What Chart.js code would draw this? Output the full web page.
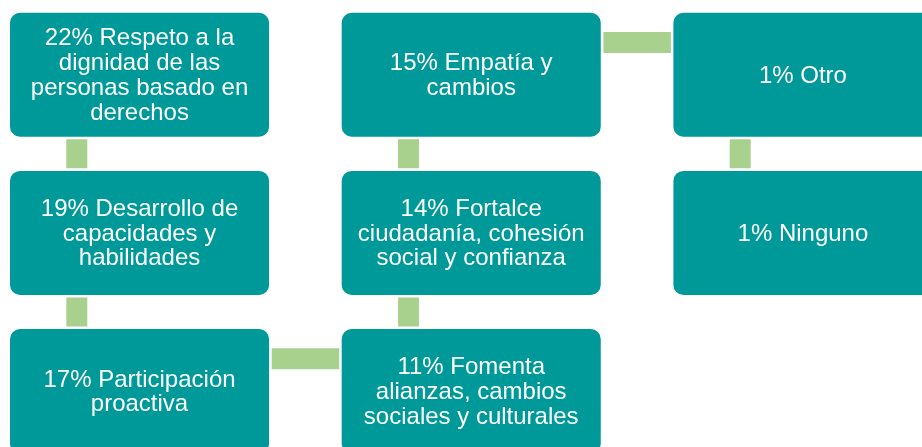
<!DOCTYPE html>
<html>
<head>
<meta charset="utf-8">
<script src="https://cdn.jsdelivr.net/npm/chart.js@4"></script>
<style>
  html, body { margin: 0; padding: 0; background: #ffffff; }
  #wrap { width: 922px; height: 447px; position: relative; }
</style>
</head>
<body>
<div id="wrap"><canvas id="c"></canvas></div>
<script>
// ---- data ----
const categories = [
  'Respeto a la dignidad de las personas basado en derechos',
  'Desarrollo de capacidades y habilidades',
  'Participación proactiva',
  'Fomenta alianzas, cambios sociales y culturales',
  'Fortalce ciudadanía, cohesión social y confianza',
  'Empatía y cambios',
  'Otro',
  'Ninguno'
];
const values = [22, 19, 17, 11, 14, 15, 1, 1];

// ---- layout (snake flow, 3 boxes per column) ----
const ROWS = 3;
const BOX_W = 0.781;   // fraction of column pitch
const BOX_H = 0.784;   // fraction of row pitch
function cellOf(i) {
  const col = Math.floor(i / ROWS);
  const r = i % ROWS;
  const row = (col % 2 === 0) ? r : (ROWS - 1 - r);
  return { col, row };
}
const cells = categories.map((_, i) => cellOf(i));

const boxData = cells.map(c => ({ x: c.col + BOX_W / 2, y: [c.row, c.row + BOX_H] }));

const connectorSets = [];
for (let i = 0; i < cells.length - 1; i++) {
  const a = cells[i], b = cells[i + 1];
  if (a.col === b.col) {
    const top = Math.min(a.row, b.row);
    const xc = a.col + 0.2014;
    connectorSets.push([{ x: xc, y: top + 0.8005 }, { x: xc, y: top + 0.983 }]);
  } else {
    const yc = a.row + 0.188;
    const left = Math.min(a.col, b.col);
    connectorSets.push([{ x: left + BOX_W + 0.008, y: yc }, { x: left + 1 - 0.0075, y: yc }]);
  }
}

const TEAL = '#009999';
const GREEN = '#A9D18E';

const datasets = [
  {
    type: 'bar',
    data: boxData,
    backgroundColor: TEAL,
    borderWidth: 0,
    borderRadius: 10,
    borderSkipped: false,
    categoryPercentage: 1,
    barPercentage: BOX_W,
    order: 1
  }
];
connectorSets.forEach(seg => {
  datasets.push({
    type: 'line',
    data: seg,
    borderColor: GREEN,
    borderWidth: 21,
    borderCapStyle: 'butt',
    pointRadius: 0,
    fill: false,
    tension: 0,
    order: 2
  });
});

const labelPlugin = {
  id: 'boxLabels',
  afterDatasetsDraw(chart) {
    const ctx = chart.ctx;
    const meta = chart.getDatasetMeta(0);
    ctx.save();
    ctx.fillStyle = '#ffffff';
    ctx.font = '24px "Liberation Sans", Arial, sans-serif';
    ctx.textAlign = 'center';
    ctx.textBaseline = 'middle';
    const lh = 24.7;
    meta.data.forEach((el, i) => {
      const text = values[i] + '% ' + categories[i];
      const maxW = el.width - 20;
      const words = text.split(' ');
      const lines = [];
      let cur = '';
      words.forEach(w => {
        const test = cur ? cur + ' ' + w : w;
        if (ctx.measureText(test).width > maxW && cur) {
          lines.push(cur);
          cur = w;
        } else {
          cur = test;
        }
      });
      if (cur) lines.push(cur);
      const cy = (el.y + el.base) / 2 + 1.2;
      const cx = el.x;
      lines.forEach((ln, k) => {
        ctx.fillText(ln, cx, cy + (k - (lines.length - 1) / 2) * lh);
      });
    });
    ctx.restore();
  }
};

new Chart(document.getElementById('c'), {
  type: 'bar',
  data: { datasets },
  options: {
    responsive: true,
    maintainAspectRatio: false,
    animation: false,
    layout: { padding: 0 },
    plugins: { legend: { display: false }, tooltip: { enabled: false } },
    scales: {
      x: {
        type: 'linear',
        display: false,
        offset: false,
        min: -10 / 331.7,
        max: 912 / 331.7,
        afterBuildTicks: (axis) => { axis.ticks = []; }
      },
      y: {
        type: 'linear',
        display: false,
        reverse: true,
        offset: false,
        min: -12.7 / 158.2,
        max: 434.3 / 158.2,
        afterBuildTicks: (axis) => { axis.ticks = []; }
      }
    }
  },
  plugins: [labelPlugin]
});
</script>
</body>
</html>
